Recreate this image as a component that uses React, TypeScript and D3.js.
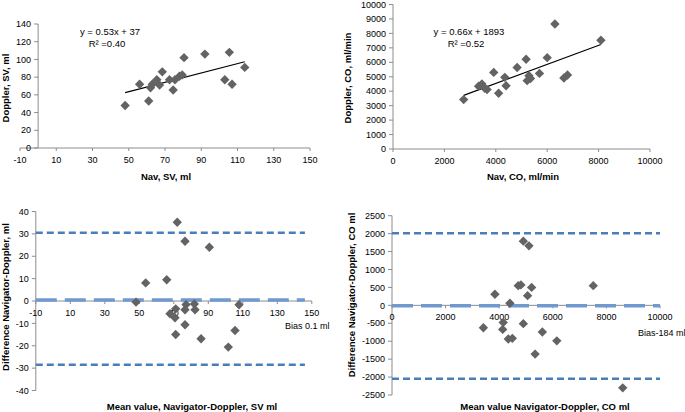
import React, { useRef, useEffect } from 'react';
import * as d3 from 'd3';

const W = 685;
const H = 412;

// Stroke volume: Navigator vs Doppler (ml)
const svNav = [48, 56, 61, 62, 63, 65.5, 67, 68.5, 72.5, 74.5, 75.5, 78, 79.5, 80.5, 92, 105.5, 103, 107, 114];
const svDoppler = [48, 72, 53, 68, 72, 77, 71, 86, 77, 65.5, 77, 81, 82.5, 102, 106, 108, 77, 72, 91];
const svSlope = 0.53;
const svIntercept = 37;

// Cardiac output: Navigator vs Doppler (ml/min)
const coNav = [2750, 3330, 3460, 3570, 3660, 3920, 4110, 4350, 4400, 4830, 5180, 5220, 5290, 5350, 5700, 6000, 6300, 6650, 6790, 8090];
const coDoppler = [3420, 4340, 4500, 4200, 4110, 5300, 3860, 4960, 4380, 5640, 6210, 4730, 5070, 4880, 5230, 6320, 8650, 4910, 5120, 7530];
const coSlope = 0.66;
const coIntercept = 1893;

// Bland-Altman SV
const baSvMean = [72, 76.5, 90.6, 53.7, 65.9, 48.1, 67.8, 70.7, 71.1, 77.1, 76.5, 81.9, 82.3, 76.5, 71.1, 85.8, 105.5, 101.6, 107.8];
const baSvDiff = [35.2, 26.7, 24, 8.1, 9.5, -0.5, -5.7, -7.5, -3.5, -1.6, -3.9, -1.3, -3.9, -10.6, -15, -16.9, -13.2, -20.6, -1.7];
const svLimits = [30.5, -28.5];
const svBias = 0.5;

// Bland-Altman CO
const baCoMean = [4900, 5110, 4710, 4810, 5210, 5060, 3840, 4400, 7510, 3410, 4150, 4130, 4900, 4340, 4490, 5610, 6150, 5340, 8610];
const baCoDiff = [1790, 1660, 550, 570, 500, 270, 310, 60, 550, -625, -475, -670, -510, -940, -920, -745, -990, -1360, -2300];
const coLimits = [2010, -2050];
const coBias = -10;

const FONT = '"Liberation Sans", Arial, sans-serif';
const AXIS = '#8c8c8c';
const DOT = '#636363';
const BLUE = '#4a7ebb';
const BIAS_BLUE = '#6f99cf';

type Panel = {
  x: d3.ScaleLinear<number, number>;
  y: d3.ScaleLinear<number, number>;
  xTicks: number[];
  yTicks: number[];
  yAxisAt: number; // x value where the y axis crosses
  xAxisAt: number; // y value where the x axis crosses
  xs: number[];
  ys: number[];
};

function drawPanel(svg: d3.Selection<SVGSVGElement, unknown, null, undefined>, p: Panel) {
  const g = svg.append('g');
  const ax = p.x(p.yAxisAt);
  const ay = p.y(p.xAxisAt);
  const [x0, x1] = p.x.range();
  const [y0, y1] = p.y.range();

  // axes lines
  g.append('line').attr('x1', x0).attr('x2', x1).attr('y1', ay).attr('y2', ay)
    .attr('stroke', AXIS).attr('stroke-width', 1);
  g.append('line').attr('x1', ax).attr('x2', ax).attr('y1', y0).attr('y2', y1)
    .attr('stroke', AXIS).attr('stroke-width', 1);

  // y ticks
  p.yTicks.forEach(t => {
    g.append('line').attr('x1', ax - 4).attr('x2', ax).attr('y1', p.y(t)).attr('y2', p.y(t))
      .attr('stroke', AXIS);
    g.append('text').attr('x', ax - 7).attr('y', p.y(t)).attr('dy', '0.35em')
      .attr('text-anchor', 'end').attr('font-size', 9).attr('font-family', FONT)
      .text(t);
  });

  // x ticks
  p.xTicks.forEach(t => {
    g.append('line').attr('x1', p.x(t)).attr('x2', p.x(t)).attr('y1', ay).attr('y2', ay + 3)
      .attr('stroke', AXIS);
    g.append('text').attr('x', p.x(t)).attr('y', ay + 15)
      .attr('text-anchor', 'middle').attr('font-size', 9).attr('font-family', FONT)
      .text(t);
  });

  return g;
}

function drawDots(g: d3.Selection<SVGGElement, unknown, null, undefined>, p: Panel) {
  const sym = d3.symbol().type(d3.symbolSquare).size(44);
  g.selectAll('.dot')
    .data(p.xs.map((v, i) => [v, p.ys[i]]))
    .enter()
    .append('path')
    .attr('d', sym)
    .attr('transform', d => `translate(${p.x(d[0])},${p.y(d[1])}) rotate(45)`)
    .attr('fill', DOT);
}

function drawFit(g: d3.Selection<SVGGElement, unknown, null, undefined>, p: Panel, slope: number, intercept: number) {
  const ext = d3.extent(p.xs) as [number, number];
  const line = d3.line<number>().x(v => p.x(v)).y(v => p.y(slope * v + intercept));
  g.append('path').attr('d', line(ext)).attr('stroke', '#000').attr('stroke-width', 1.2).attr('fill', 'none');
}

function drawLimits(g: d3.Selection<SVGGElement, unknown, null, undefined>, p: Panel, limits: number[], bias: number, xEnd: number) {
  const xa = p.yAxisAt;
  limits.forEach(v => {
    g.append('line').attr('x1', p.x(xa)).attr('x2', p.x(xEnd)).attr('y1', p.y(v)).attr('y2', p.y(v))
      .attr('stroke', BLUE).attr('stroke-width', 2.5).attr('stroke-dasharray', '7,4');
  });
  g.append('line').attr('x1', p.x(xa)).attr('x2', p.x(xEnd)).attr('y1', p.y(bias)).attr('y2', p.y(bias))
    .attr('stroke', BIAS_BLUE).attr('stroke-width', 3.5).attr('stroke-dasharray', '21,8');
}

function label(svg: d3.Selection<SVGSVGElement, unknown, null, undefined>, txt: string, x: number, y: number, opts: { bold?: boolean; rotate?: boolean; anchor?: string; size?: number } = {}) {
  const t = svg.append('text')
    .attr('font-family', FONT)
    .attr('font-size', opts.size || 9.5)
    .attr('font-weight', opts.bold ? 'bold' : 'normal')
    .attr('text-anchor', opts.anchor || 'middle');
  if (opts.rotate) {
    t.attr('transform', `translate(${x},${y}) rotate(-90)`).attr('dy', '0.35em');
  } else {
    t.attr('x', x).attr('y', y);
  }
  return t.text(txt);
}

const App = () => {
  const svgRef = useRef<SVGSVGElement>(null);

  useEffect(() => {
    const svg = d3.select(svgRef.current!);
    svg.selectAll('*').remove();

    // Top-left: SV regression
    const p1: Panel = {
      x: d3.scaleLinear().domain([-10, 150]).range([20, 310]),
      y: d3.scaleLinear().domain([0, 140]).range([148, 24]),
      xTicks: d3.range(-10, 151, 20),
      yTicks: d3.range(0, 141, 20),
      yAxisAt: 0, xAxisAt: 0,
      xs: svNav, ys: svDoppler,
    };
    const g1 = drawPanel(svg, p1);
    drawFit(g1, p1, svSlope, svIntercept);
    drawDots(g1, p1);
    label(svg, 'y = 0.53x + 37', 110, 35);
    label(svg, 'R² =0.40', 107, 47);
    label(svg, 'Nav, SV, ml', 166, 180, { bold: true });
    label(svg, 'Doppler, SV, ml', 6, 88, { bold: true, rotate: true });

    // Top-right: CO regression
    const p2: Panel = {
      x: d3.scaleLinear().domain([0, 10000]).range([393, 650]),
      y: d3.scaleLinear().domain([0, 10000]).range([149, 4.5]),
      xTicks: d3.range(0, 10001, 2000),
      yTicks: d3.range(0, 10001, 1000),
      yAxisAt: 0, xAxisAt: 0,
      xs: coNav, ys: coDoppler,
    };
    const g2 = drawPanel(svg, p2);
    drawFit(g2, p2, coSlope, coIntercept);
    drawDots(g2, p2);
    label(svg, 'y = 0.66x + 1893', 469, 35);
    label(svg, 'R² =0.52', 466, 47);
    label(svg, 'Nav, CO, ml/min', 523, 180, { bold: true });
    label(svg, 'Doppler, CO, ml/min', 348, 78, { bold: true, rotate: true });

    // Bottom-left: Bland-Altman SV
    const p3: Panel = {
      x: d3.scaleLinear().domain([-10, 150]).range([35.8, 311.8]),
      y: d3.scaleLinear().domain([-40, 40]).range([390.5, 211.5]),
      xTicks: d3.range(-10, 151, 20),
      yTicks: d3.range(-40, 41, 10),
      yAxisAt: -10, xAxisAt: 0,
      xs: baSvMean, ys: baSvDiff,
    };
    const g3 = drawPanel(svg, p3);
    drawLimits(g3, p3, svLimits, svBias, 146);
    drawDots(g3, p3);
    label(svg, 'Bias 0.1 ml', 285, 329, { anchor: 'start', size: 9 });
    label(svg, 'Mean value, Navigator-Doppler, SV ml', 192, 410, { bold: true });
    label(svg, 'Difference Navigator-Doppler, ml', 6, 297, { bold: true, rotate: true });

    // Bottom-right: Bland-Altman CO
    const p4: Panel = {
      x: d3.scaleLinear().domain([0, 10000]).range([392, 660]),
      y: d3.scaleLinear().domain([-2500, 2500]).range([395, 215.7]),
      xTicks: d3.range(0, 10001, 2000),
      yTicks: d3.range(-2500, 2501, 500),
      yAxisAt: 0, xAxisAt: 0,
      xs: baCoMean, ys: baCoDiff,
    };
    const g4 = drawPanel(svg, p4);
    drawLimits(g4, p4, coLimits, coBias, 10000);
    drawDots(g4, p4);
    label(svg, 'Bias-184 ml', 638, 336, { anchor: 'start', size: 9 });
    label(svg, 'Mean value Navigator-Doppler, CO ml', 545, 410, { bold: true });
    label(svg, 'Difference Navigator-Doppler, CO ml', 352, 295, { bold: true, rotate: true });
  }, []);

  return (
    <svg ref={svgRef} width={W} height={H}
      style={{ position: 'absolute', left: 0, top: 0, background: '#fff' }} />
  );
};

export default App;
